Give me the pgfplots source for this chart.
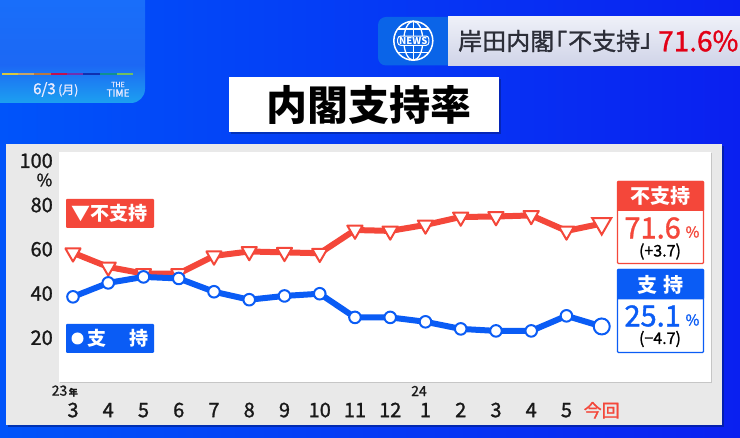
\documentclass[border=0pt]{standalone}
\usepackage{pgfplots}
\pgfplotsset{compat=1.18}
\usepackage{fontspec}
\setmainfont{Noto Sans CJK JP}
\newfontfamily\med[FakeBold=1.2]{Noto Sans CJK JP}
\usetikzlibrary{shapes.geometric}
\definecolor{rd}{HTML}{F4473A}
\definecolor{bl}{HTML}{0A5CF5}
\definecolor{panel}{HTML}{E9E9E9}
\definecolor{bgl}{RGB}{0,84,250}
\definecolor{bgr}{RGB}{10,32,240}
\definecolor{tlt}{RGB}{24,112,252}
\definecolor{tlm}{RGB}{28,104,244}
\definecolor{tlb}{RGB}{28,160,240}
\definecolor{nb}{RGB}{10,100,232}
\definecolor{bant}{RGB}{238,240,248}
\definecolor{banb}{RGB}{208,212,232}
\definecolor{bantx}{RGB}{44,46,56}
\definecolor{banred}{RGB}{226,0,22}
\definecolor{shd}{RGB}{0,30,130}
\newcommand{\fs}[1]{\fontsize{#1}{#1}\selectfont}
\begin{document}
\begin{tikzpicture}
\path[use as bounding box] (0,0) rectangle (740pt,438pt);
\begin{scope}[x=1pt,y=-1pt,yshift=438pt]
% background
\shade[left color=bgl, right color=bgr] (0,0) rectangle (740,438);
% top-left blurred box
\begin{scope}
\clip (0,0) rectangle (740,438);
\clip[rounded corners=14pt] (-20,-20) rectangle (145,103);
\shade[top color=tlt, bottom color=tlm] (-20,-20) rectangle (145,65);
\shade[top color=tlm, bottom color=tlb] (-20,65) rectangle (145,103);
\end{scope}
\foreach \a/\b/\c in {2/18/D8C840,18/34/C8A468,34/51/B87840,51/67/C01050,67/83/7030B0,83/100/1030B0,100/117/109090,117/133/70C060}{
  \definecolor{tmpc}{HTML}{\c}
  \fill[tmpc] (\a,73) rectangle (\b,75.5);
}
\node[text=white!92!blue,inner sep=0,anchor=west] at (33,89.5) {\fs{15}\med 6/3\,\fs{12}(月)};
\node[text=white!92!blue,inner sep=0] at (118,84.5) {\fs{7}\med THE};
\node[text=white!92!blue,inner sep=0] at (118,93) {\fs{10}\med TIME};
% news banner
\fill[nb,rounded corners=8pt] (378,17) rectangle (460,65.5);
\shade[top color=bant, bottom color=banb] (448,17) rectangle (740,65.5);
\draw[white,line width=1.5pt] (413.3,40.7) circle (19.5);
\draw[white,line width=1.3pt] (413.3,40.7) ellipse (9.5 and 19.5);
\draw[white,line width=1.2pt] (413.3,21.2) -- (413.3,60.2) (398,29) -- (428.6,29) (398,52.4) -- (428.6,52.4);
\node[fill=nb,draw=white,line width=1pt,rounded corners=3pt,inner xsep=1.5pt,inner ysep=1pt,text=white,font=\fs{9.5}\bfseries] at (413.3,40.7) {NEWS};
\node[anchor=west,inner sep=0,text=bantx] at (458,41) {\fs{24}\med 岸田内閣};
\node[anchor=west,inner sep=0,text=bantx] at (543,41) {\fs{24}\med 「};
\node[anchor=west,inner sep=0,text=bantx] at (568,41) {\fs{24}\med 不支持};
\node[anchor=west,inner sep=0,text=bantx] at (640,41) {\fs{24}\med 」};
\node[anchor=west,inner sep=0,text=banred] at (658,41) {\fs{28}\med 71.6\%};
% title box
\fill[black,opacity=.25] (231,79) rectangle (501,134);
\fill[white] (229,77) rectangle (499,132);
\node[inner sep=0,font=\bfseries] at (369,105) {\fs{41}内閣支持率};
% panel
\fill[shd,opacity=.6] (7.5,146) rectangle (723.5,427);
\fill[panel] (6,144) rectangle (722,425);
\fill[black,opacity=.15] (60,153) rectangle (712,383);
\end{scope}
\begin{axis}[
  at={(59pt,56pt)},anchor=south west,
  scale only axis,width=652pt,height=230pt,
  xmin=-0.397,xmax=18.1,ymin=0,ymax=103.97,
  axis background/.style={fill=white},
  axis line style={draw=none},
  tick style={draw=none},
  ytick={20,40,60,80,100},
  xtick={0,...,15},
  xticklabels={3,4,5,6,7,8,9,10,11,12,1,2,3,4,5,{\textcolor{rd}{\fs{18}今回}}},
  /pgf/number format/assume math mode=true,
  ticklabel style={font=\fs{20}\med,text=black!90},
  xticklabel style={text height=15pt,text depth=0pt,inner sep=0pt},
  yticklabel style={inner sep=0pt},
  major tick length=0pt,
  xticklabel shift=20pt,
  yticklabel shift=6pt,
  clip=false,
]
\addplot[rd,line width=6pt,line join=round,mark=triangle*,mark size=8.8pt,mark options={rotate=180,fill=white,draw=rd,line width=2pt,solid}] coordinates {
(0,58.4)(1,52)(2,49)(3,49)(4,57)(5,59)(6,58.6)(7,58.2)(8,68.7)(9,68.3)(10,71)(11,74.6)(12,74.8)(13,75.3)(14,68.3)(15,71.6)};
\addplot[only marks,mark=triangle*,mark size=11pt,mark options={rotate=180,fill=white,draw=rd,line width=2pt}] coordinates {(15,71.6)};
\addplot[bl,line width=6pt,line join=round,mark=*,mark size=5.8pt,mark options={fill=white,draw=bl,line width=2pt,solid}] coordinates {
(0,38.5)(1,44.8)(2,47.5)(3,46.8)(4,40.8)(5,37.2)(6,38.9)(7,39.9)(8,29.2)(9,29.2)(10,27.2)(11,24)(12,23.1)(13,23.1)(14,29.9)(15,25.1)};
\addplot[only marks,mark=*,mark size=8pt,mark options={fill=white,draw=bl,line width=2pt}] coordinates {(15,25.1)};
\end{axis}
\begin{scope}[x=1pt,y=-1pt,yshift=438pt]
\node[anchor=east,inner sep=0,text=black!90] at (52.5,180) {\fs{17}\med\%};
\node[inner sep=0,text=black!90,anchor=east] at (78,391) {\fs{14}\med 23\fs{9}\,\textbf{年}};
\node[inner sep=0,text=black!90] at (419,391) {\fs{14}\med 24};
% legend labels
\fill[rd,rounded corners=1pt] (66,199) rectangle (154,228);
\node[text=white,inner sep=0,anchor=west] at (71,213.5) {\fs{19}\textbf{▼不支持}};
\fill[bl,rounded corners=1pt] (66,324) rectangle (154,353);
\fill[white] (77.5,338.5) circle (6);
\node[text=white,inner sep=0,anchor=west] at (87,338.5) {\fs{19}\textbf{支}};
\node[text=white,inner sep=0,anchor=west] at (129,338.5) {\fs{19}\textbf{持}};
% value boxes
\draw[rd,line width=1.2pt,fill=white,rounded corners=1pt] (617.5,181.5) rectangle (703.5,263.5);
\fill[rd,rounded corners=1pt] (617,181) rectangle (704,211);
\node[text=white,inner sep=0,font=\bfseries] at (660.5,196) {\fs{20}不支持};
\node[text=rd,inner sep=0,anchor=east] at (681,228) {\fs{29}\med 71.6};
\node[text=rd,inner sep=0] at (692.5,232) {\fs{15}\med\%};
\node[text=black,inner sep=0] at (660,251.5) {\fs{16}\med (+3.7)};
\draw[bl,line width=1.2pt,fill=white,rounded corners=1pt] (617.5,269.5) rectangle (703.5,352.5);
\fill[bl,rounded corners=1pt] (617,269) rectangle (704,299.5);
\node[text=white,inner sep=0,font=\bfseries] at (660.5,285) {\fs{20}支\hspace{6pt}持};
\node[text=bl,inner sep=0,anchor=east] at (681,316) {\fs{29}\med 25.1};
\node[text=bl,inner sep=0] at (692.5,320) {\fs{15}\med\%};
\node[text=black,inner sep=0] at (660,339) {\fs{16}\med (−4.7)};
\end{scope}
\end{tikzpicture}
\end{document}
